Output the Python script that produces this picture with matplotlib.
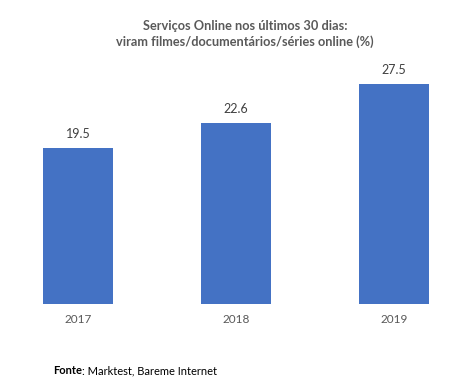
import matplotlib
matplotlib.use("Agg")
import matplotlib.pyplot as plt

# data
years = ["2017", "2018", "2019"]
values = [19.5, 22.6, 27.5]

title = "Serviços Online nos últimos 30 dias:\nviram filmes/documentários/séries online (%)"
source_bold = "Fonte"
source_rest = ": Marktest, Bareme Internet"

plt.rcParams['font.family'] = ['Lato', 'DejaVu Sans']

W, H = 472, 389
fig = plt.figure(figsize=(W/100, H/100), dpi=100)

# axes placed so that baseline sits at y=304px and bars are centred at 78/236/394px
ax = fig.add_axes([0, 85/H, 1, 240/H])
x = range(len(years))
bars = ax.bar(x, values, width=70/158, color="#4472C4")
ax.set_xlim(-78/158, (W-78)/158)
ax.set_ylim(0, 30)

for b, v in zip(bars, values):
    ax.annotate(f"{v}", (b.get_x() + b.get_width()/2, v), xytext=(0, 6),
                textcoords="offset points", ha="center", va="bottom",
                fontsize=9, color="#404040")

ax.set_xticks(list(x))
ax.set_xticklabels(years, fontsize=8.5, color="#595959")
ax.tick_params(axis="x", length=0, pad=7)
ax.set_yticks([])
for s in ax.spines.values():
    s.set_visible(False)

fig.text(245/W, 1 - 34/H, title, ha="center", va="center", fontsize=9.2,
         fontweight="bold", color="#595959", linespacing=1.4)

# source line: bold "Fonte" followed by regular text
t1 = fig.text(53/W, 1 - 371/H, source_bold, ha="left", va="center",
              fontsize=8, fontweight="bold", color="black")
fig.canvas.draw()
bb = t1.get_window_extent()
fig.text(bb.x1/W, 1 - 371/H, source_rest, ha="left", va="center",
         fontsize=8, color="black")

fig.savefig("out.png", dpi=100)
